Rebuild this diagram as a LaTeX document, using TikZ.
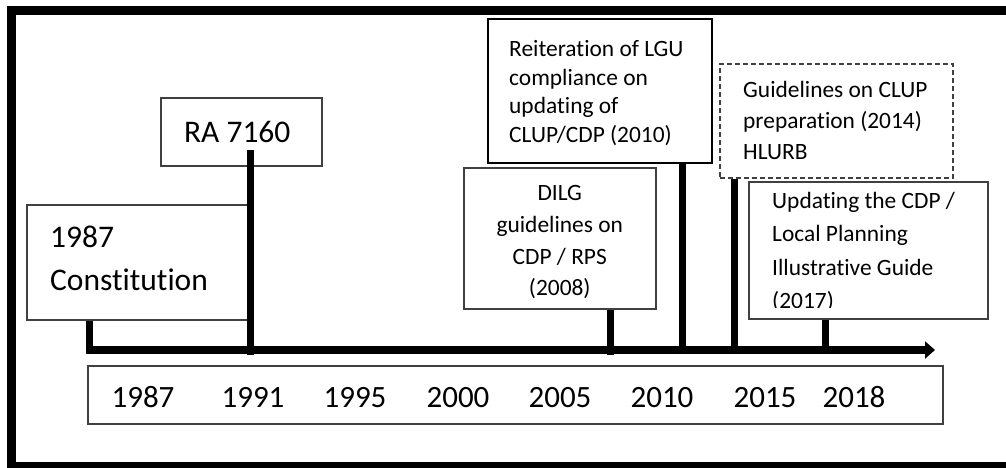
\documentclass[tikz,border=0pt]{standalone}
\usepackage{fontspec}
\setmainfont{Carlito}[RawFeature=-liga]
\usetikzlibrary{arrows.meta}

\begin{document}
\begin{tikzpicture}[x=1pt,y=-1pt,
					box/.style={draw=black!75,line width=1.5pt,inner sep=0pt,anchor=north west},
					big/.style={font=\fontsize{31.5}{43}\selectfont,inner sep=0pt},
					small/.style={font=\fontsize{23.4}{28.4}\selectfont,inner sep=0pt,align=left},
					stem/.style={line width=7pt},
					year node/.style={font=\fontsize{31}{37}\selectfont,anchor=base,inner sep=0pt}]

  \useasboundingbox (0,0) rectangle (1006,467);
  \clip (0,0) rectangle (1006,467);
  \draw[line width=9pt] (11.5,10) rectangle (1030,466.5);

  % event boxes
  \node[box,minimum width=222,minimum height=115] (const) at (26,204) {};
  \node[big,align=left,anchor=west] (const txt) at ([xshift=24,yshift=4]const.west) {1987\\Constitution};
  \node[box,minimum width=161,minimum height=68] (ra) at (160,97) {};
  \node[big] (ra txt) at ([xshift=-4]ra.center) {RA 7160};
  \node[box,minimum width=192,minimum height=141] (dilg) at (463,167) {};
  \node[small,align=center,font=\fontsize{23.4}{31.7}\selectfont] (dilg txt) at ([yshift=-4]dilg.center) {DILG\\guidelines on\\CDP / RPS\\(2008)};
  \node[box,draw=black,line width=2.2pt,minimum width=224,minimum height=144] (reit) at (487,18) {};
  \node[small,anchor=west] (reit txt) at ([xshift=22,yshift=-2]reit.west) {Reiteration of LGU\\compliance on\\updating of\\CLUP/CDP (2010)};
  \node[box,dashed,dash pattern=on 5pt off 3pt,minimum width=233,minimum height=114] (guid) at (719,63) {};
  \node[small,anchor=west,font=\fontsize{23.4}{31}\selectfont] (guid txt) at ([xshift=24]guid.west) {Guidelines on CLUP\\preparation (2014)\\HLURB};
  \node[box,minimum width=239,minimum height=137] (upd) at (748,181) {};
  \begin{scope}
    \clip (748,181) rectangle (987,307);
    \node[small,anchor=north west,font=\fontsize{23.4}{33.5}\selectfont] (upd txt) at ([xshift=24,yshift=-11]upd.north west) {Updating the CDP /\\Local Planning\\Illustrative Guide\\(2017)};
  \end{scope}

  % time axis
  \coordinate (ax0) at (86,350);
  \coordinate (ax1) at (935,350);
  \coordinate (c1987) at (89,350);
  \coordinate (c1991) at (250,355);
  \coordinate (c2008) at (610,350);
  \coordinate (c2010) at (682,350);
  \coordinate (c2014) at (734,350);
  \coordinate (c2017) at (825,350);

  \path[stem]
    (const.south -| c1987) edge (c1987)
    ([yshift=17]ra.south -| c1991) edge (c1991)
    (dilg.south -| c2008) edge ([yshift=-5]c2008)
    (reit.south -| c2010) edge (c2010)
    (guid.south -| c2014) edge (c2014)
    (upd.south -| c2017) edge (c2017);
  \draw[line width=8.5pt,-{Triangle[width=17pt,length=10pt]}] (ax0) -- (ax1);

  % years
  \node[box,minimum width=855,minimum height=58] (years) at (87,365) {};
  \foreach \yr/\x in {1987/143,1991/253,1995/355,2000/458,2005/560,2010/662,2015/765,2018/854}
    \node[year node] (y\yr) at (\x,407) {\yr};
\end{tikzpicture}
\end{document}
